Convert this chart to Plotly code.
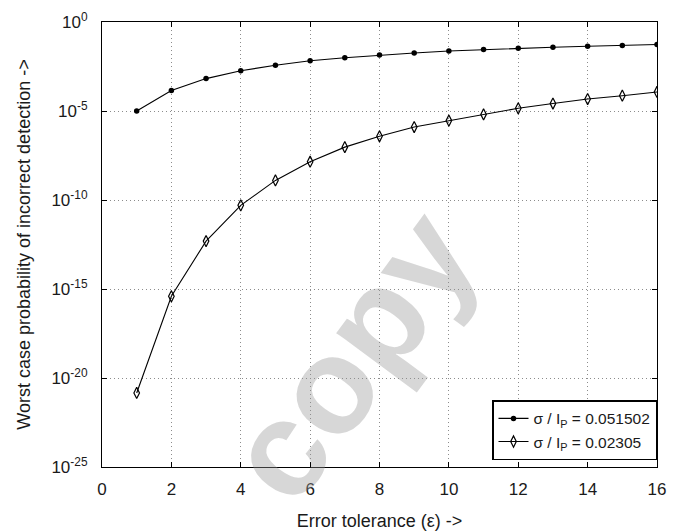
import plotly.graph_objects as go

# Data (log10 of probability)
eps = list(range(1, 17))
log_p_a = [-5.0, -3.85, -3.18, -2.74, -2.43, -2.18, -2.01, -1.86, -1.74, -1.63,
           -1.55, -1.48, -1.42, -1.36, -1.32, -1.26]
log_p_b = [-20.84, -15.41, -12.31, -10.30, -8.90, -7.85, -7.03, -6.42, -5.90, -5.54,
           -5.19, -4.85, -4.58, -4.33, -4.14, -3.93]
p_a = [10 ** v for v in log_p_a]
p_b = [10 ** v for v in log_p_b]

name_a = "σ / I<sub>P</sub> = 0.051502"
name_b = "σ / I<sub>P</sub> = 0.02305"

x_ticks = [0, 2, 4, 6, 8, 10, 12, 14, 16]
y_exps = [0, -5, -10, -15, -20, -25]
y_tickvals = [10.0 ** e for e in y_exps]
y_ticktext = ["10<sup>%d</sup>" % e for e in y_exps]

FONT = "Liberation Sans, Arial, sans-serif"
TXT = "#1a1a1a"

fig = go.Figure()
fig.add_trace(go.Scatter(
    x=eps, y=p_a, name=name_a, mode="lines+markers",
    line=dict(color="black", width=1.1),
    marker=dict(symbol="circle", size=5.5, color="black"),
))
fig.add_trace(go.Scatter(
    x=eps, y=p_b, name=name_b, mode="lines+markers",
    line=dict(color="black", width=1.1),
    marker=dict(symbol="diamond-tall-open", size=8, color="black",
                line=dict(width=1.2, color="black")),
))

axis_common = dict(
    showline=True, linecolor="black", linewidth=1.2, mirror="ticks",
    ticks="inside", ticklen=5, tickcolor="black", tickwidth=1,
    showgrid=True, gridcolor="#8c8c8c", griddash="1px,3px", gridwidth=1,
    zeroline=False, automargin=False,
    tickfont=dict(family=FONT, size=17, color=TXT),
)

fig.update_xaxes(
    range=[0, 16], tickvals=x_ticks, ticklabelstandoff=6,
    title=dict(text="Error tolerance (ε) ->", font=dict(family=FONT, size=18, color=TXT),
               standoff=16),
    **axis_common,
)
fig.update_yaxes(
    type="log", range=[-25, 0], tickvals=y_tickvals, ticktext=y_ticktext,
    ticklabelstandoff=10,
    title=dict(text="Worst case probability of incorrect detection ->",
               font=dict(family=FONT, size=18, color=TXT), standoff=16),
    **axis_common,
)

fig.add_annotation(
    text="copy", xref="paper", yref="paper", x=0.447, y=0.25,
    xanchor="center", yanchor="middle",
    showarrow=False, textangle=-53.5,
    font=dict(family=FONT, size=136, color="rgba(150,150,150,0.38)", weight="bold"),
)

fig.update_layout(
    width=688, height=532,
    margin=dict(l=94, r=39, t=14, b=73),
    paper_bgcolor="white", plot_bgcolor="white",
    showlegend=True,
    legend=dict(
        x=1, y=0.015, xanchor="right", yanchor="bottom",
        bgcolor="white", bordercolor="black", borderwidth=1.5,
        font=dict(family=FONT, size=15.5, color=TXT),
        itemwidth=30, tracegroupgap=2,
    ),
)

fig.write_html("out.html")
